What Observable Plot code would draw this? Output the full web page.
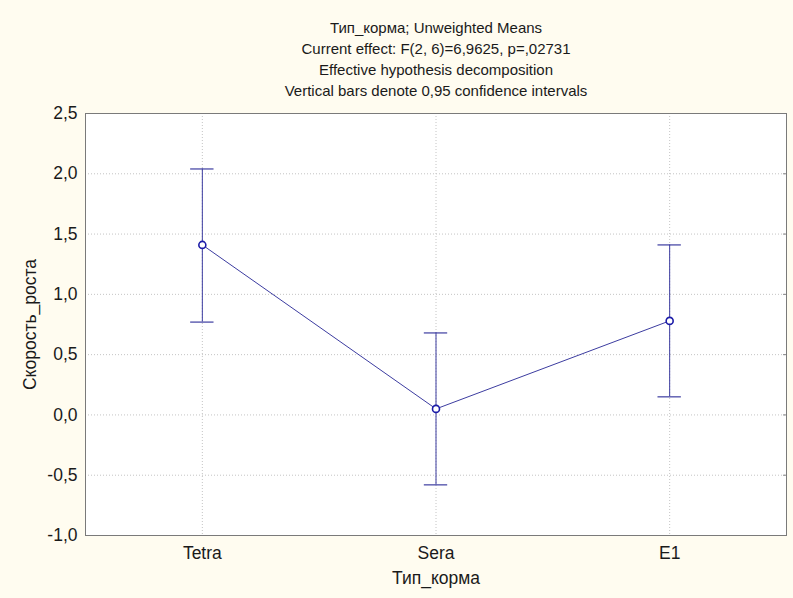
<!DOCTYPE html>
<html>
<head>
<meta charset="utf-8">
<script src="https://cdn.jsdelivr.net/npm/d3@7"></script>
<script src="https://cdn.jsdelivr.net/npm/@observablehq/plot@0.6"></script>
<style>
  html, body { margin: 0; padding: 0; background: #fffcf0; }
  #chart svg { display: block; }
</style>
</head>
<body>
<div id="chart"></div>
<script>
const categories = ["Tetra", "Sera", "E1"];
const means = [1.41, 0.05, 0.78];
const lower = [0.77, -0.58, 0.15];
const upper = [2.04, 0.68, 1.41];
const yTicks = [-1.0, -0.5, 0.0, 0.5, 1.0, 1.5, 2.0, 2.5];
const titleLines = [
  "Тип_корма; Unweighted Means",
  "Current effect: F(2, 6)=6,9625, p=,02731",
  "Effective hypothesis decomposition",
  "Vertical bars denote 0,95 confidence intervals"
];
const xLabel = "Тип_корма";
const yLabel = "Скорость_роста";

const capHalf = 0.05; // half-width of CI caps, in category steps
const data = categories.map((c, i) => ({i, cat: c, mean: means[i], lo: lower[i], hi: upper[i]}));
const xIdx = categories.map((c, i) => i);
const fmt = d => d.toFixed(1).replace(".", ",");
const lineColor = "#3c3ca0";
const textColor = "#1a1a1a";
const font = "Arial, 'Liberation Sans', sans-serif";

const chart = Plot.plot({
  width: 793,
  height: 598,
  marginLeft: 85,
  marginRight: 7,
  marginTop: 113,
  marginBottom: 63,
  style: {background: "#fffcf0", fontFamily: font, fontSize: "14px", color: textColor},
  x: {type: "linear", domain: [-0.5, categories.length - 0.5], label: null},
  y: {domain: [-1, 2.5], label: null},
  marks: [
    Plot.frame({fill: "white", stroke: "none"}),
    Plot.gridY(yTicks, {stroke: "#c4c4c4", strokeOpacity: 1, strokeDasharray: "1,2"}),
    Plot.gridX(xIdx, {stroke: "#c4c4c4", strokeOpacity: 1, strokeDasharray: "1,2"}),
    Plot.axisY(yTicks, {tickSize: 0, tickPadding: 8, tickFormat: fmt, fontSize: 17.5, fill: textColor, label: null}),
    Plot.axisY(yTicks, {anchor: "right", tickSize: -4, tickFormat: () => "", stroke: "#888", label: null}),
    Plot.axisX(xIdx, {tickSize: 0, tickPadding: 11, tickFormat: i => categories[i], fontSize: 17.5, fill: textColor, label: null}),
    Plot.frame({stroke: "#7a7a7a", strokeWidth: 1}),
    Plot.ruleX(data, {x: "i", y1: "lo", y2: "hi", stroke: lineColor, strokeWidth: 1}),
    Plot.ruleY(data, {y: "lo", x1: d => d.i - capHalf, x2: d => d.i + capHalf, stroke: lineColor, strokeWidth: 1.2}),
    Plot.ruleY(data, {y: "hi", x1: d => d.i - capHalf, x2: d => d.i + capHalf, stroke: lineColor, strokeWidth: 1.2}),
    Plot.line(data, {x: "i", y: "mean", stroke: lineColor, strokeWidth: 1}),
    Plot.dot(data, {x: "i", y: "mean", r: 3.5, fill: "white", stroke: "#1c1ca8", strokeWidth: 1.6}),
    Plot.text([titleLines.join("\n")], {frameAnchor: "top", dy: -56, lineAnchor: "middle", lineHeight: 1.4, fontSize: 15, fill: textColor}),
    Plot.text([xLabel], {frameAnchor: "bottom", dy: 43, lineAnchor: "middle", fontSize: 17.5, fill: textColor}),
    Plot.text([yLabel], {frameAnchor: "left", dx: -55, rotate: -90, textAnchor: "middle", lineAnchor: "middle", fontSize: 17.5, fill: textColor})
  ]
});
document.getElementById("chart").appendChild(chart);
</script>
</body>
</html>
